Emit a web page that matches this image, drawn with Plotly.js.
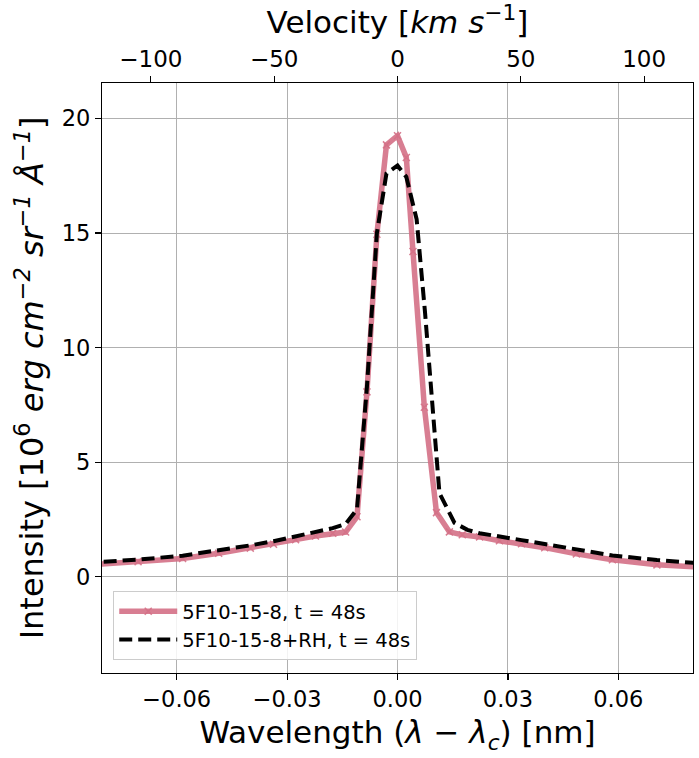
<!DOCTYPE html>
<html>
<head>
<meta charset="utf-8">
<script src="https://cdn.plot.ly/plotly-3.0.1.min.js"></script>
<style>
  html, body { margin: 0; padding: 0; background: #fff; }
  #chart { width: 699px; height: 758px; }
</style>
</head>
<body>
<div id="chart"></div>
<script>
// Wavelength offsets from line centre [nm] and emergent intensity [1e6 erg cm^-2 sr^-1 Å^-1]
const waveModel = [-0.085, -0.0705, -0.0584, -0.0486, -0.0400, -0.0337, -0.0277, -0.0223, -0.0176, -0.0141,
  -0.0110, -0.0083, -0.0056, -0.0030, 0.0, 0.0024, 0.0042, 0.0073, 0.0106, 0.0141,
  0.0176, 0.0223, 0.0277, 0.0337, 0.0400, 0.0486, 0.0584, 0.0705, 0.085];
const intensityModel = [0.50, 0.66, 0.80, 1.03, 1.25, 1.42, 1.62, 1.78, 1.90, 1.95,
  2.62, 8.07, 14.95, 18.85, 19.25, 18.30, 14.20, 7.40, 2.80, 1.96,
  1.83, 1.74, 1.57, 1.44, 1.27, 1.00, 0.74, 0.52, 0.40];

const waveRH = [-0.085, -0.0705, -0.0584, -0.0486, -0.0400, -0.0337, -0.0277, -0.0223, -0.0176, -0.0141,
  -0.0110, -0.0083, -0.0056, -0.0030, 0.0, 0.0024, 0.0052, 0.0075, 0.0114, 0.0155,
  0.0190, 0.0223, 0.0277, 0.0337, 0.0400, 0.0486, 0.0584, 0.0705, 0.085];
const intensityRH = [0.60, 0.75, 0.92, 1.14, 1.37, 1.55, 1.75, 1.92, 2.12, 2.30,
  2.95, 8.30, 15.00, 17.60, 17.95, 17.45, 15.60, 11.50, 3.65, 2.35,
  2.05, 1.90, 1.74, 1.60, 1.43, 1.18, 0.93, 0.73, 0.55];

const seriesNames = ['5F10-15-8, t = 48s', '5F10-15-8+RH, t = 48s'];

// Axis ticks
const waveTicks = [-0.06, -0.03, 0.0, 0.03, 0.06];
const velocityTicks = [-100, -50, 0, 50, 100];
const intensityTicks = [0, 5, 10, 15, 20];

const FONT = 'DejaVu Sans, Liberation Sans, sans-serif';
const PINK = 'rgba(212,112,134,0.9)';

const traces = [
  {
    x: waveModel, y: intensityModel, name: seriesNames[0],
    type: 'scatter', mode: 'lines+markers',
    line: { color: PINK, width: 5.5 },
    marker: { symbol: 'x-thin', size: 7, color: PINK, line: { width: 1.5, color: PINK } },
    xaxis: 'x', yaxis: 'y'
  },
  {
    x: waveRH, y: intensityRH, name: seriesNames[1],
    type: 'scatter', mode: 'lines',
    line: { color: '#000000', width: 4, dash: '13px,6px' },
    xaxis: 'x', yaxis: 'y'
  },
  {
    // carries the velocity axis along the top
    x: [], y: [], type: 'scatter', mode: 'lines',
    showlegend: false, hoverinfo: 'skip',
    xaxis: 'x2', yaxis: 'y'
  }
];

const layout = {
  width: 699, height: 758,
  margin: { l: 102, r: 6, t: 83, b: 85 },
  paper_bgcolor: '#ffffff', plot_bgcolor: '#ffffff',
  font: { family: FONT, size: 22, color: '#000' },
  showlegend: true,
  legend: {
    x: 0.019, y: 0.022, xanchor: 'left', yanchor: 'bottom',
    bgcolor: 'rgba(255,255,255,0.85)', bordercolor: '#cccccc', borderwidth: 1,
    font: { family: FONT, size: 19.5, color: '#000' },
    itemwidth: 58, tracegroupgap: 0
  },
  xaxis: {
    range: [-0.0803, 0.0803],
    tickvals: waveTicks, tickformat: '.2f',
    ticks: 'outside', ticklen: 6, tickwidth: 1.2, tickcolor: '#000',
    showgrid: true, gridcolor: '#b0b0b0', gridwidth: 1,
    zeroline: false, showline: true, linecolor: '#000', linewidth: 1.2, mirror: true,
    tickfont: { family: FONT, size: 22.5 },
    title: { text: 'Wavelength (<i>λ</i> − <i>λ<sub>c</sub></i>) [nm]', font: { family: FONT, size: 31 }, standoff: 10 }
  },
  xaxis2: {
    overlaying: 'x', side: 'top', anchor: 'y',
    range: [-119.8, 119.8],
    tickvals: velocityTicks,
    ticks: 'outside', ticklen: 6, tickwidth: 1.2, tickcolor: '#000',
    showgrid: false, zeroline: false, showline: false,
    tickfont: { family: FONT, size: 23 },
    title: { text: 'Velocity [<i>km s</i><sup>−1</sup>]', font: { family: FONT, size: 31 }, standoff: 4 }
  },
  yaxis: {
    range: [-4.2, 21.55],
    tickvals: intensityTicks,
    ticks: 'outside', ticklen: 6, tickwidth: 1.2, tickcolor: '#000',
    showgrid: true, gridcolor: '#b0b0b0', gridwidth: 1,
    zeroline: false, showline: true, linecolor: '#000', linewidth: 1.2, mirror: true,
    tickfont: { family: FONT, size: 22.5 },
    title: { text: 'Intensity [10<sup>6</sup> <i>erg cm<sup>−2</sup> sr<sup>−1</sup> Å<sup>−1</sup></i>]', font: { family: FONT, size: 32 }, standoff: 8 }
  }
};

Plotly.newPlot('chart', traces, layout, { staticPlot: true, displayModeBar: false });
</script>
</body>
</html>
